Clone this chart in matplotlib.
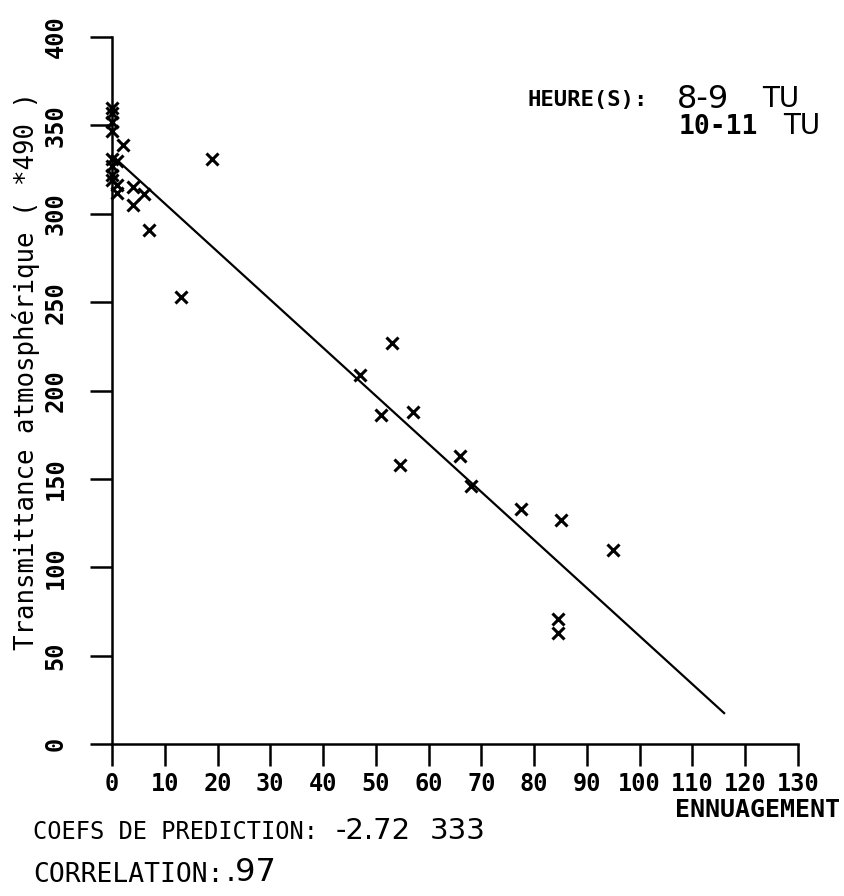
import matplotlib
matplotlib.use("Agg")
import matplotlib.pyplot as plt
import numpy as np

# données
ennuagement = [0, 0, 0, 0, 0, 0, 0, 0,
               1, 1, 1, 2, 4, 4, 6, 7, 13, 19,
               47, 53, 51, 57, 54.5, 66, 68, 77.5, 85, 95, 84.5, 84.5]
transmittance = [360, 357, 352, 347, 331, 327, 322, 319,
                 330, 316, 312, 339, 315, 305, 311, 291, 253, 331,
                 209, 227, 186, 188, 158, 163, 146, 133, 127, 110, 70.5, 63]
coef_a = -2.72
coef_b = 333
x_fit = [0, 116]
x_ticks = list(range(0, 131, 10))
y_ticks = list(range(0, 401, 50))

W, H = 845, 896
fig = plt.figure(figsize=(W / 100, H / 100), dpi=100)
ax = fig.add_axes([0.1013, 0.1598, 0.8743, 0.8186])
ax.set_xlim(-5, 135)
ax.set_ylim(-5, 410)

mono = "DejaVu Sans Mono"
thin = "DejaVu Sans"

# points et droite de regression
ax.plot(ennuagement, transmittance, linestyle="none", marker="x",
        markersize=9, markeredgewidth=2.2, color="black", clip_on=False)
y_fit = [coef_a * v + coef_b for v in x_fit]
ax.plot(x_fit, y_fit, color="black", linewidth=1.6)

# axes
for s in ["top", "right"]:
    ax.spines[s].set_visible(False)
ax.spines["left"].set_position(("data", 0))
ax.spines["bottom"].set_position(("data", 0))
ax.spines["left"].set_bounds(0, 400)
ax.spines["bottom"].set_bounds(0, 130)
ax.spines["left"].set_linewidth(1.8)
ax.spines["bottom"].set_linewidth(1.8)
ax.set_xticks(x_ticks)
ax.set_yticks(y_ticks)
ax.tick_params(direction="out", length=16, width=1.8, color="black")
ax.tick_params(axis="x", pad=4)
ax.tick_params(axis="y", pad=16)
for lab in ax.get_xticklabels() + ax.get_yticklabels():
    lab.set_fontfamily(mono)
    lab.set_fontweight("bold")
    lab.set_fontsize(17)
for lab in ax.get_yticklabels():
    lab.set_rotation(90)
    lab.set_va("center")

def fx(px):
    return px / W

def fy(py):
    return 1 - py / H

# titre de l'axe y
fig.text(fx(26), fy(371), "Transmittance atmosphérique ( *490 )",
         rotation=90, ha="center", va="center", fontsize=18.5,
         family=mono, color="black")

# legende des heures
fig.text(fx(528), fy(100), "HEURE(S):", ha="left", va="center",
         fontsize=16, family=mono, fontweight="bold")
fig.text(fx(677), fy(99), "8-9", ha="left", va="center",
         fontsize=23, family=thin)
fig.text(fx(762), fy(99), "TU", ha="left", va="center",
         fontsize=20, family=thin)
fig.text(fx(679), fy(127), "10-11", ha="left", va="center",
         fontsize=19, family=mono, fontweight="bold")
fig.text(fx(783), fy(126), "TU", ha="left", va="center",
         fontsize=20, family=thin)

# titre de l'axe x
fig.text(fx(840), fy(810), "ENNUAGEMENT", ha="right", va="center",
         fontsize=18, family=mono, fontweight="bold")

# coefficients
fig.text(fx(33), fy(832), "COEFS DE PREDICTION:", ha="left", va="center",
         fontsize=17, family=mono)
fig.text(fx(336), fy(831), "%.2f" % coef_a, ha="left", va="center",
         fontsize=21, family=thin)
fig.text(fx(430), fy(831), "%d" % coef_b, ha="left", va="center",
         fontsize=21, family=thin)
fig.text(fx(33), fy(875), "CORRELATION:", ha="left", va="center",
         fontsize=19, family=mono)
fig.text(fx(226), fy(872), ".97", ha="left", va="center",
         fontsize=23, family=thin)

fig.savefig("out.png", dpi=100)
